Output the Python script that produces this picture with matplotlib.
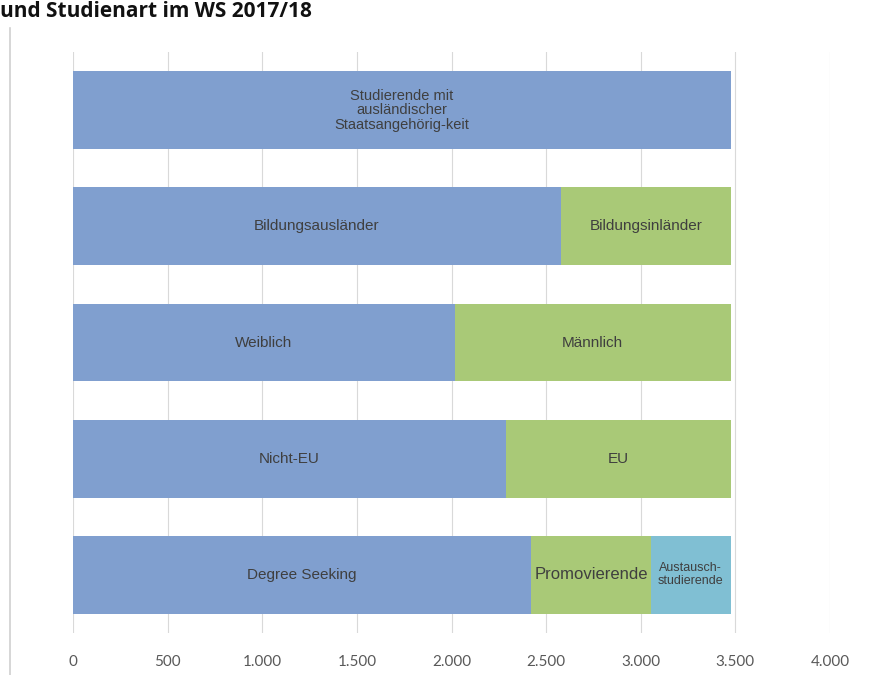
import matplotlib
matplotlib.use("Agg")
import matplotlib.pyplot as plt

categories = ["Gesamt", "Bildungsherkunft", "Geschlecht", "Herkunft", "Studienart"]
seg1 = [3475, 2579, 2018, 2288, 2420]
seg2 = [0, 896, 1457, 1187, 634]
seg3 = [0, 0, 0, 0, 421]
labels1 = ["Studierende mit\nausländischer\nStaatsangehörig-keit", "Bildungsausländer",
           "Weiblich", "Nicht-EU", "Degree Seeking"]
labels2 = ["", "Bildungsinländer", "Männlich", "EU", "Promovierende"]
labels3 = ["", "", "", "", "Austausch-\nstudierende"]
xticks = [0, 500, 1000, 1500, 2000, 2500, 3000, 3500, 4000]
xticklabels = ["0", "500", "1.000", "1.500", "2.000", "2.500", "3.000", "3.500", "4.000"]

c1, c2, c3 = "#809fcf", "#a9c977", "#80bfd3"
tcol = "#3f3f3f"

fig = plt.figure(figsize=(8.77, 6.75), dpi=100)
ax = fig.add_axes([73/877, 1-633/675, (830-73)/877, (633-52)/675])

y = list(range(len(categories)))
left2 = seg1
left3 = [a + b for a, b in zip(seg1, seg2)]
h = 0.67
ax.barh(y, seg1, height=h, color=c1, zorder=2)
ax.barh(y, seg2, left=left2, height=h, color=c2, zorder=2)
ax.barh(y, seg3, left=left3, height=h, color=c3, zorder=2)

for i in y:
    fs = 10.5 if i == 0 else 11
    if labels1[i]:
        ax.text(seg1[i]/2, i, labels1[i], ha="center", va="center", fontsize=fs,
                color=tcol, family="Liberation Sans", linespacing=1.05, zorder=3)
    if labels2[i]:
        ax.text(left2[i] + seg2[i]/2, i, labels2[i], ha="center", va="center",
                fontsize=11 if i != 4 else 12, color=tcol, family="Liberation Sans", zorder=3)
    if labels3[i]:
        ax.text(left3[i] + seg3[i]/2, i, labels3[i], ha="center", va="center", fontsize=9,
                color=tcol, family="Liberation Sans", linespacing=1.1, zorder=3)

ax.set_xlim(0, 4000)
ax.set_ylim(4.5, -0.5)
ax.set_xticks(xticks)
ax.set_xticklabels(xticklabels, fontsize=11, color="#595959", family="Lato")
ax.set_yticks([])
ax.tick_params(axis="x", length=0, pad=16)
ax.grid(axis="x", color="#d9d9d9", linewidth=0.8, zorder=0)
for s in ax.spines.values():
    s.set_visible(False)

fig.add_artist(plt.Line2D([10/877, 10/877], [0, 1-28/675], transform=fig.transFigure,
                          color="#d0d0d0", linewidth=1.2))
fig.text(0.0, 1-17/675, "und Studienart im WS 2017/18", fontsize=15, fontweight="bold",
         family="Open Sans", color="#111111", ha="left", va="baseline")

fig.savefig("out.png", dpi=100)
